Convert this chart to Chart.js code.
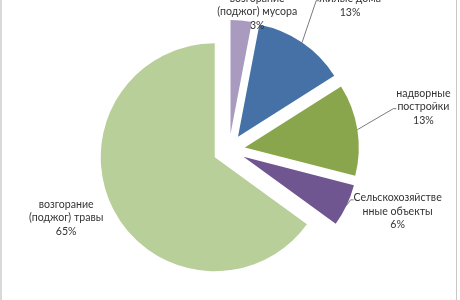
<!DOCTYPE html>
<html>
<head>
<meta charset="utf-8">
<script src="https://cdn.jsdelivr.net/npm/chart.js@4"></script>
<style>
  body { margin: 0; background: #fff; }
  #wrap { position: relative; width: 460px; height: 300px; overflow: hidden; }
  #edgeL { position: absolute; left: 0; top: 0; width: 2px; height: 300px; background: #d9d9d9; }
  #edgeR { position: absolute; left: 456px; top: 0; width: 1px; height: 300px; background: #c8c8c8; }
</style>
</head>
<body>
<div id="wrap">
  <canvas id="chart" width="460" height="300"></canvas>
  <div id="edgeL"></div>
  <div id="edgeR"></div>
</div>
<script>
// categories and values (percent)
const categories = [
  "возгорание\n(поджог) мусора",
  "жилые дома",
  "надворные\nпостройки",
  "Сельскохозяйстве\nнные объекты",
  "возгорание\n(поджог) травы",
];
const values = [3, 13, 13, 6, 65];
const colors = ["#a99bbf", "#4571a6", "#89a64c", "#6f5690", "#b9cf99"];

// every slice is pulled out by the same distance (px), like an exploded Excel pie
const explode = 16;

// label placement: shift from the outer point of each slice, leader line row (-1 = none)
const labelShift = [
  [16, -8.5, -1],
  [48, -37, 0],
  [66, -23, 1],
  [51, 6, 0],
  [-47, 9, -1],
];

const lineH = 13.5;

// move each arc along its bisector (chart.js offset also grows the radius)
const explodeSlices = {
  id: "explodeSlices",
  afterDatasetUpdate(chart, args) {
    args.meta.data.forEach((arc) => {
      const mid = (arc.startAngle + arc.endAngle) / 2;
      arc.x += Math.cos(mid) * explode;
      arc.y += Math.sin(mid) * explode;
    });
  },
};

const pieLabels = {
  id: "pieLabels",
  afterDatasetsDraw(chart) {
    const ctx = chart.ctx;
    const meta = chart.getDatasetMeta(0);
    ctx.save();
    ctx.font = "10.6px Lato";
    ctx.fillStyle = "#333333";
    ctx.strokeStyle = "#595959";
    ctx.lineWidth = 0.8;
    ctx.textAlign = "center";
    ctx.textBaseline = "middle";
    meta.data.forEach((arc, i) => {
      const p = arc.getProps(["x", "y", "startAngle", "endAngle", "outerRadius"], true);
      const mid = (p.startAngle + p.endAngle) / 2;
      const px = p.x + Math.cos(mid) * p.outerRadius;
      const py = p.y + Math.sin(mid) * p.outerRadius;
      const lines = categories[i].split("\n").concat([values[i] + "%"]);
      const cx = px + labelShift[i][0];
      const cy = py + labelShift[i][1];
      const top = cy - (lines.length - 1) * lineH / 2;
      let left = cx;
      lines.forEach((t, k) => {
        ctx.fillText(t, cx, top + k * lineH);
        left = Math.min(left, cx - ctx.measureText(t).width / 2);
      });
      const row = labelShift[i][2];
      if (row >= 0) {
        const ly = top + row * lineH + 2;
        ctx.beginPath();
        ctx.moveTo(px, py);
        ctx.lineTo(left - 3, ly);
        ctx.lineTo(left, ly);
        ctx.stroke();
      }
    });
    ctx.restore();
  },
};

new Chart(document.getElementById("chart"), {
  type: "pie",
  data: {
    labels: categories,
    datasets: [
      {
        data: values,
        backgroundColor: colors,
        borderWidth: 0,
        radius: 114,
      },
    ],
  },
  options: {
    responsive: false,
    animation: false,
    layout: { padding: { left: 0, right: 2, top: 0, bottom: 0 } },
    plugins: { legend: { display: false }, tooltip: { enabled: false } },
  },
  plugins: [explodeSlices, pieLabels],
});
</script>
</body>
</html>
